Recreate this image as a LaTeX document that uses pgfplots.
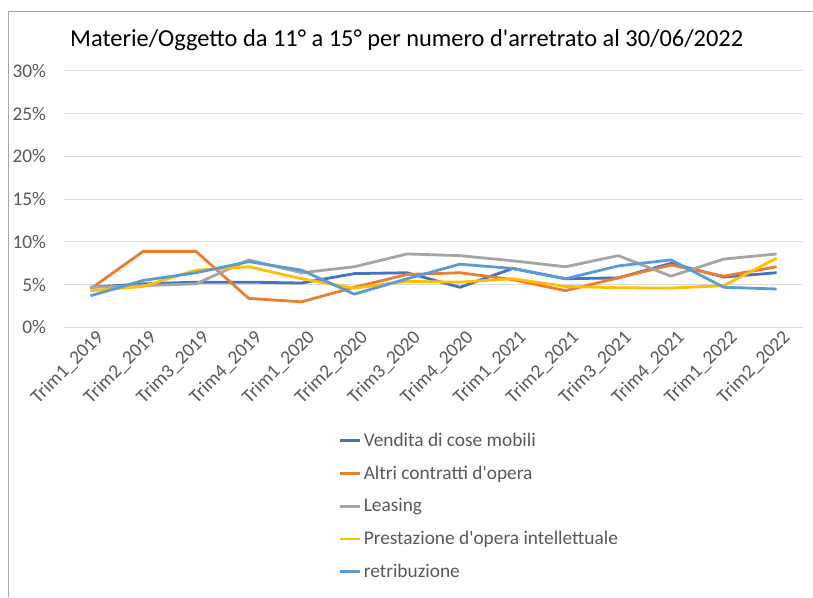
\documentclass[border=0pt]{standalone}
\usepackage{fontspec}
\setmainfont{Carlito}[Ligatures=TeXOff]
\usepackage{pgfplots}
\pgfplotsset{compat=1.18}
\usepackage{pgfplotstable}
\definecolor{cA}{HTML}{4472C4}
\definecolor{cB}{HTML}{ED7D31}
\definecolor{cC}{HTML}{A5A5A5}
\definecolor{cD}{HTML}{FFC000}
\definecolor{cE}{HTML}{5B9BD5}
\definecolor{txt}{HTML}{595959}
\definecolor{gridc}{HTML}{D9D9D9}
\definecolor{framec}{HTML}{A6A6A6}
\pgfplotstableread{
x vendita altri leasing prestazione retribuzione
0  4.7 4.5 4.7 4.3 3.7
1  5.1 8.9 4.9 4.8 5.5
2  5.3 8.9 5.1 6.7 6.4
3  5.3 3.4 7.9 7.1 7.7
4  5.2 3.0 6.4 5.7 6.7
5  6.3 4.7 7.1 4.6 3.9
6  6.4 6.2 8.6 5.4 5.7
7  4.7 6.4 8.4 5.3 7.4
8  6.9 5.6 7.8 5.7 6.9
9  5.7 4.3 7.1 4.8 5.7
10 5.8 5.8 8.4 4.65 7.2
11 7.5 7.3 6.0 4.6 7.9
12 5.9 6.0 8.0 4.9 4.7
13 6.4 7.1 8.6 8.1 4.5
}\datatable
\begin{document}
\begin{tikzpicture}
\useasboundingbox (0,0) rectangle (609.75pt,-447.75pt);
\fill[white] (0,0) rectangle (609.75pt,-447.75pt);
\draw[framec, line width=0.75pt] (6pt,-447.75pt) -- (6pt,-8.25pt) -- (609.75pt,-8.25pt);
\node[font=\fontsize{18.3}{21}\selectfont, text=black] at (305pt,-30pt) {Materie/Oggetto da 11° a 15° per numero d'arretrato al 30/06/2022};
\begin{axis}[
  at={(48pt,-245.6pt)}, anchor=south west,
  scale only axis, width=554.25pt, height=192.4pt,
  xmin=-0.5, xmax=13.5, ymin=0, ymax=30,
  axis line style={draw=none},
  tick style={draw=none},
  ytick={0,5,...,30},
  yticklabel={\pgfmathprintnumber{\tick}\%},
  /pgf/number format/assume math mode=true,
  ymajorgrids=true, xmajorgrids=false,
  y grid style={gridc, line width=0.75pt},
  xtick={0,...,13},
  xticklabels={Trim1\_2019,Trim2\_2019,Trim3\_2019,Trim4\_2019,Trim1\_2020,Trim2\_2020,Trim3\_2020,Trim4\_2020,Trim1\_2021,Trim2\_2021,Trim3\_2021,Trim4\_2021,Trim1\_2022,Trim2\_2022},
  ticklabel style={font=\fontsize{14.5}{16}\selectfont, text=txt},
  xticklabel style={rotate=45, anchor=north east, inner sep=1pt, xshift=3pt, yshift=-2pt},
  yticklabel style={xshift=-10pt},
  legend style={at={(0.371,-0.40)}, anchor=north west, draw=none, fill=none,
    font=\fontsize{14.5}{16}\selectfont, text=txt, row sep=9pt, inner sep=0pt},
  legend cell align=left,
  legend image code/.code={\draw[#1, line width=2pt] (0pt,0pt) -- (15pt,0pt);},
  every axis plot/.append style={line width=2.1pt, line join=round},
]
\addplot[cA, mark=none] table[x=x, y=vendita] {\datatable};
\addlegendentry{Vendita di cose mobili}
\addplot[cB, mark=none] table[x=x, y=altri] {\datatable};
\addlegendentry{Altri contratti d'opera}
\addplot[cC, mark=none] table[x=x, y=leasing] {\datatable};
\addlegendentry{Leasing}
\addplot[cD, mark=none] table[x=x, y=prestazione] {\datatable};
\addlegendentry{Prestazione d'opera intellettuale}
\addplot[cE, mark=none] table[x=x, y=retribuzione] {\datatable};
\addlegendentry{retribuzione}
\end{axis}
\end{tikzpicture}
\end{document}
